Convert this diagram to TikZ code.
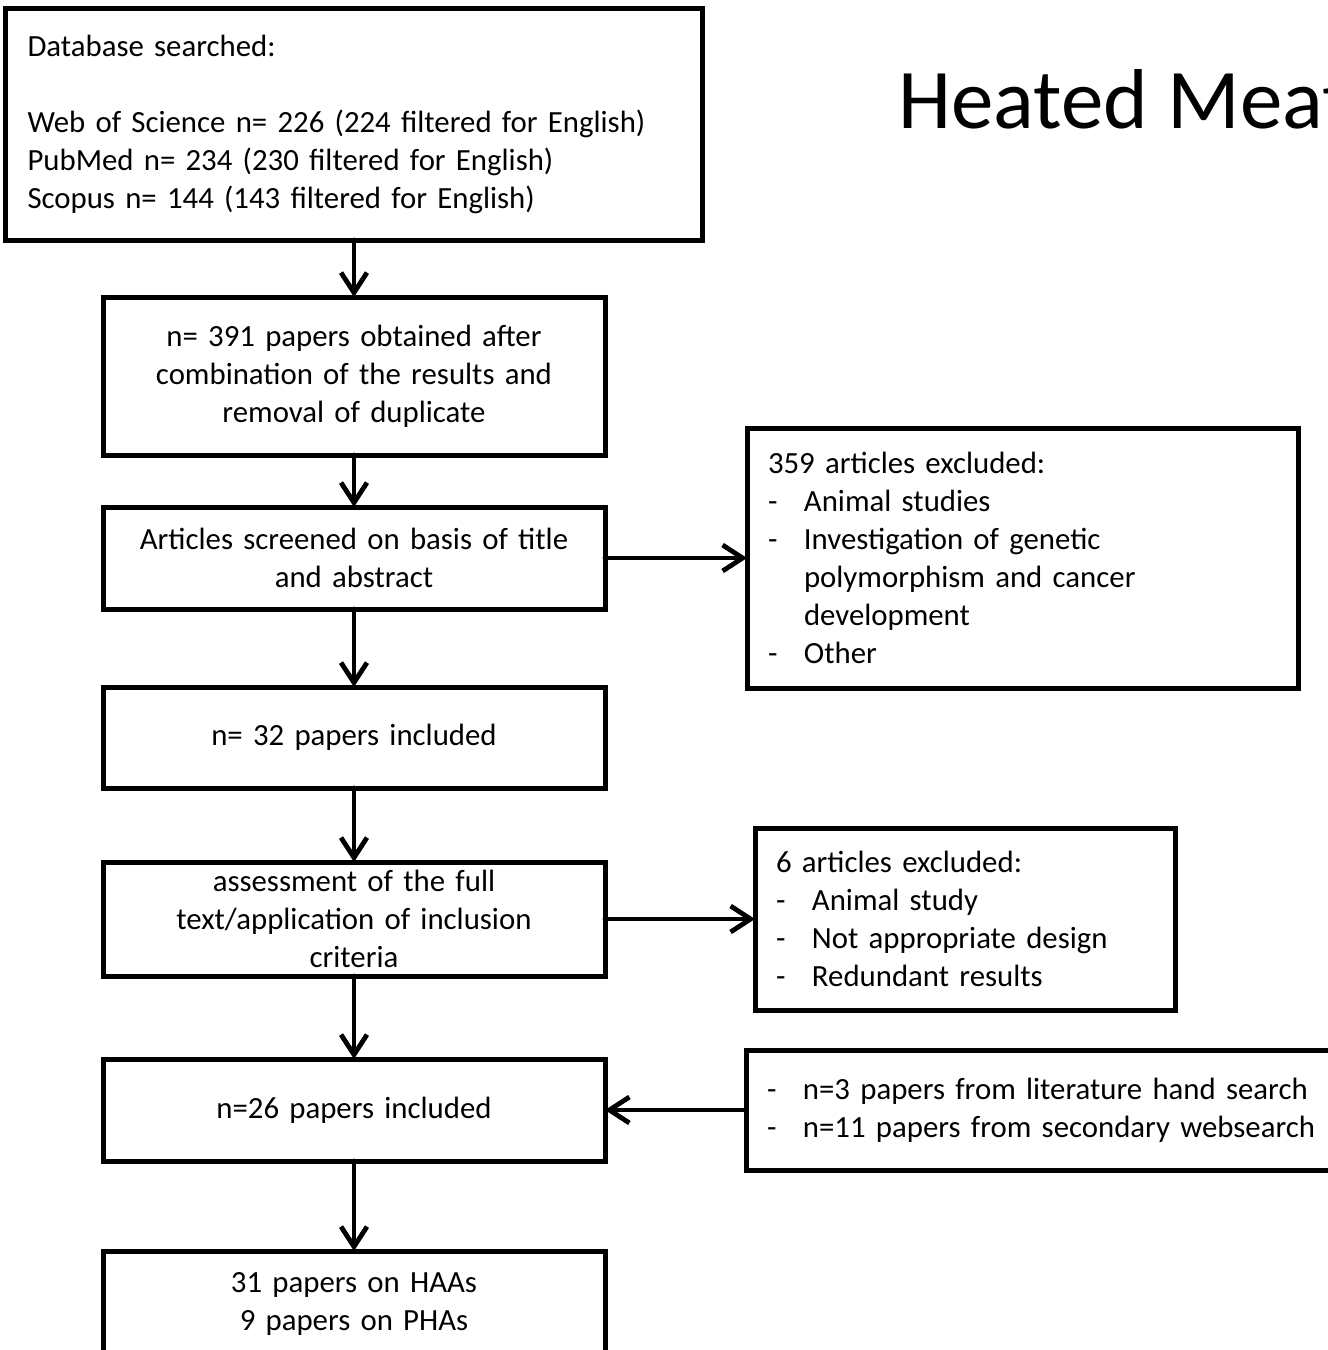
\documentclass[tikz,border=0pt]{standalone}
\usepackage{fontspec}
\setmainfont{Carlito}
\usetikzlibrary{positioning,arrows.meta}
\newcommand{\dashitem}[1]{\makebox[18pt][l]{-}#1}

\begin{document}
\begin{tikzpicture}
    \tikzstyle{box} = [rectangle, draw, line width=2.5pt, outer sep=0pt, inner xsep=6pt, inner ysep=0pt, text width=239pt, align=center, font=\fontsize{15.4}{19}\selectfont]
    \tikzstyle{listbox} = [box, align=left, inner xsep=10.5pt]
    \tikzstyle{arrow} = [line width=2.4pt, line join=round, line cap=round, -{Straight Barb[length=10pt,width=13pt]}]

    \useasboundingbox (0,0) rectangle (664pt,-675pt);
    \clip (0,0) rectangle (664pt,-675pt);

    % main column
    \node (db) [listbox, inner xsep=11pt, text width=326.5pt, minimum height=116pt] at (177pt,-62pt) {Database searched:\\[19pt]
        Web of Science n= 226 (224 filtered for English)\\
        PubMed n= 234 (230 filtered for English)\\
        Scopus n= 144 (143 filtered for English)};
    \node (merged) [box, below=28.5pt of db, minimum height=79pt] {n= 391 papers obtained after\\ combination of the results and\\ removal of duplicate};
    \node (screen) [box, below=26pt of merged, minimum height=51pt] {Articles screened on basis of title\\ and abstract};
    \node (incl32) [box, below=39pt of screen, minimum height=50.5pt] {n= 32 papers included};
    \node (fulltext) [box, below=37pt of incl32, minimum height=57pt] {assessment of the full\\ text/application of inclusion\\ criteria};
    \node (incl26) [box, below=41.5pt of fulltext, minimum height=51pt] {n=26 papers included};
    \node (final) [box, below=45pt of incl26, minimum height=53pt] {31 papers on HAAs\\ 9 papers on PHAs};

    % side boxes
    \node (excl359) [listbox, right=71pt of screen, text width=254.5pt, minimum height=130pt] {359 articles excluded:\\
        \dashitem{Animal studies}\\
        \dashitem{Investigation of genetic}\\
        \hspace*{18pt}polymorphism and cancer\\
        \hspace*{18pt}development\\
        \dashitem{Other}};
    \node (excl6) [listbox, right=75pt of fulltext, text width=189pt, minimum height=91pt] {6 articles excluded:\\
        \dashitem{Animal study}\\
        \dashitem{Not appropriate design}\\
        \dashitem{Redundant results}};
    \node (extra) [listbox, right=70.5pt of incl26, text width=289pt, minimum height=60pt] {\dashitem{n=3 papers from literature hand search}\\
        \dashitem{n=11 papers from secondary websearch}};

    \node (title) [anchor=base west, inner sep=0pt, font=\fontsize{42.5}{50}\selectfont] at (449pt,-64pt) {Heated Meat};

    \draw [arrow] (db) -- (merged);
    \draw [arrow] (merged) -- (screen);
    \draw [arrow] (screen) -- (incl32);
    \draw [arrow] (incl32) -- (fulltext);
    \draw [arrow] (fulltext) -- (incl26);
    \draw [arrow] (incl26) -- (final);
    \draw [arrow] (screen) -- (excl359);
    \draw [arrow] (fulltext) -- (excl6);
    \draw [arrow] (extra) -- (incl26);
\end{tikzpicture}
\end{document}
